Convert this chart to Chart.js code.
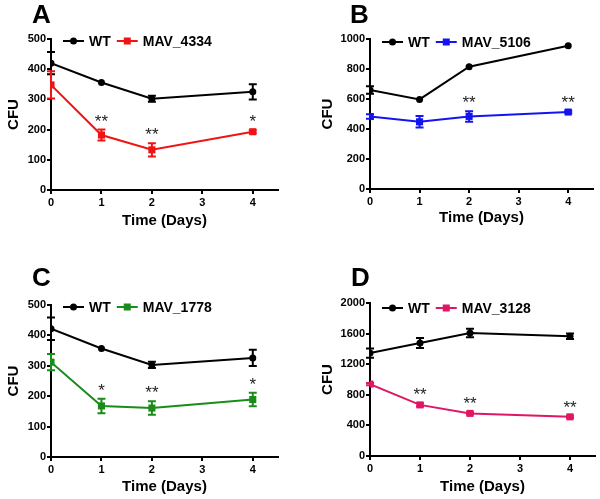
<!DOCTYPE html>
<html>
<head>
<meta charset="utf-8">
<script src="https://cdn.jsdelivr.net/npm/chart.js@4.4.1/dist/chart.umd.min.js"></script>
<style>
  html, body { margin: 0; padding: 0; background: #fff; }
  #wrap { position: relative; width: 600px; height: 499px; }
  canvas { position: absolute; }
</style>
</head>
<body>
<div id="wrap">
  <canvas id="panelA" width="300" height="250" style="left:0;top:0"></canvas>
  <canvas id="panelB" width="300" height="250" style="left:300px;top:0"></canvas>
  <canvas id="panelC" width="300" height="249" style="left:0;top:250px"></canvas>
  <canvas id="panelD" width="300" height="249" style="left:300px;top:250px"></canvas>
</div>
<script>
// shared x values (days) and tick labels
const days = [0, 1, 2, 4];
const dayTicks = [0, 1, 2, 3, 4];

// Panel A
const wtA = [420, 356, 302, 325];
const wtErrA = [37, 0, 10, 25];
const mavA = [348, 182, 133, 193];
const mavErrA = [45, 18, 22, 5];
const starsA = ['', '**', '**', '*'];
const yTicksA = [0, 100, 200, 300, 400, 500];

// Panel B
const wtB = [660, 597, 815, 955];
const wtErrB = [25, 0, 0, 0];
const mavB = [483, 448, 484, 513];
const mavErrB = [15, 38, 35, 8];
const starsB = ['', '', '**', '**'];
const yTicksB = [0, 200, 400, 600, 800, 1000];

// Panel C
const wtC = [422, 357, 303, 326];
const wtErrC = [37, 0, 10, 27];
const mavC = [312, 168, 161, 189];
const mavErrC = [27, 24, 22, 22];
const starsC = ['', '*', '**', '*'];
const yTicksC = [0, 100, 200, 300, 400, 500];

// Panel D
const wtD = [1345, 1478, 1607, 1565];
const wtErrD = [60, 65, 55, 35];
const mavD = [940, 668, 557, 512];
const mavErrD = [15, 20, 15, 15];
const starsD = ['', '**', '**', '**'];
const yTicksD = [0, 400, 800, 1200, 1600, 2000];

const FONT = '"Liberation Sans", Arial, sans-serif';

// error bars + significance stars, drawn from the dataset values through the scales
const errorBars = {
  id: 'errorBars',
  afterDatasetsDraw(chart) {
    const ctx = chart.ctx;
    const yScale = chart.scales.y;
    chart.data.datasets.forEach((ds, i) => {
      const meta = chart.getDatasetMeta(i);
      ctx.save();
      ctx.strokeStyle = ds.borderColor;
      ctx.lineWidth = 2;
      meta.data.forEach((pt, j) => {
        const v = ds.data[j].y;
        const e = ds.errors[j];
        if (e > 0) {
          const top = yScale.getPixelForValue(v + e);
          const bot = yScale.getPixelForValue(v - e);
          ctx.beginPath();
          ctx.moveTo(pt.x, top); ctx.lineTo(pt.x, bot);
          ctx.moveTo(pt.x - 4, top); ctx.lineTo(pt.x + 4, top);
          ctx.moveTo(pt.x - 4, bot); ctx.lineTo(pt.x + 4, bot);
          ctx.stroke();
        }
        if (ds.stars && ds.stars[j]) {
          ctx.fillStyle = '#222';
          ctx.font = '17px ' + FONT;
          ctx.textAlign = 'center';
          ctx.textBaseline = 'alphabetic';
          ctx.fillText(ds.stars[j], pt.x, yScale.getPixelForValue(v + e) - 3);
        }
      });
      ctx.restore();
    });
  }
};

// panel letter and inline legend (line + marker + label)
const panelDecor = {
  id: 'panelDecor',
  afterDraw(chart, args, opts) {
    const ctx = chart.ctx;
    ctx.save();
    ctx.fillStyle = '#000';
    ctx.font = 'bold 26px ' + FONT;
    ctx.textAlign = 'left';
    ctx.textBaseline = 'middle';
    ctx.fillText(opts.letter, opts.letterX, opts.letterY);

    let x = chart.chartArea.left + 12;
    const y = chart.chartArea.top + opts.legendDy;
    ctx.font = 'bold 14px ' + FONT;
    chart.data.datasets.forEach(ds => {
      ctx.strokeStyle = ds.borderColor;
      ctx.fillStyle = ds.borderColor;
      ctx.lineWidth = 2;
      ctx.beginPath();
      ctx.moveTo(x, y); ctx.lineTo(x + 21, y);
      ctx.stroke();
      if (ds.pointStyle === 'rect') {
        ctx.fillRect(x + 10.5 - 3.5, y - 3.5, 7, 7);
      } else {
        ctx.beginPath();
        ctx.arc(x + 10.5, y, 3.5, 0, Math.PI * 2);
        ctx.fill();
      }
      x += 26;
      ctx.fillStyle = '#000';
      ctx.fillText(ds.label, x, y + 1);
      x += ctx.measureText(ds.label).width + 6;
    });
    ctx.restore();
  }
};

function series(values) {
  return days.map((d, i) => ({ x: d, y: values[i] }));
}

function makePanel(id, p) {
  const tickFont = { family: FONT, size: 11, weight: 'bold' };
  const titleFont = { family: FONT, size: 15, weight: 'bold' };
  new Chart(document.getElementById(id), {
    type: 'line',
    data: {
      datasets: [{
        label: 'WT',
        data: series(p.wt),
        errors: p.wtErr,
        borderColor: '#000',
        backgroundColor: '#000',
        borderWidth: 2,
        pointStyle: 'circle',
        pointRadius: 3.5,
        pointBorderWidth: 0,
        tension: 0
      }, {
        label: p.mutLabel,
        data: series(p.mut),
        errors: p.mutErr,
        stars: p.stars,
        borderColor: p.color,
        backgroundColor: p.color,
        borderWidth: 2,
        pointStyle: 'rect',
        pointRadius: 5,
        pointBorderWidth: 0,
        tension: 0
      }]
    },
    options: {
      responsive: false,
      animation: false,
      layout: { padding: p.pad },
      plugins: {
        legend: { display: false },
        tooltip: { enabled: false },
        panelDecor: { letter: p.letter, letterX: p.letterX, letterY: p.letterY, legendDy: p.legendDy }
      },
      scales: {
        x: {
          type: 'linear',
          min: 0,
          max: 4.5,
          afterBuildTicks: s => { s.ticks = dayTicks.map(v => ({ value: v })); },
          afterFit: s => { s.height = p.xH; },
          grid: { drawOnChartArea: false, color: '#000', lineWidth: 2, tickLength: 4 },
          border: { color: '#000', width: 2 },
          ticks: { color: '#000', font: tickFont, padding: 2, maxRotation: 0, callback: v => String(v) },
          title: { display: true, text: 'Time (Days)', color: '#000', font: titleFont, padding: 0 }
        },
        y: {
          min: 0,
          max: p.yTicks[p.yTicks.length - 1],
          afterBuildTicks: s => { s.ticks = p.yTicks.map(v => ({ value: v })); },
          afterFit: s => { s.width = p.yW; },
          grid: { drawOnChartArea: false, color: '#000', lineWidth: 2, tickLength: 4 },
          border: { color: '#000', width: 2 },
          ticks: { color: '#000', font: tickFont, padding: 1, callback: v => String(v) },
          title: { display: true, text: 'CFU', color: '#000', font: titleFont, padding: { top: p.cfuPad, bottom: 0 } }
        }
      }
    },
    plugins: [errorBars, panelDecor]
  });
}

makePanel('panelA', {
  wt: wtA, wtErr: wtErrA, mut: mavA, mutErr: mavErrA, stars: starsA,
  mutLabel: 'MAV_4334', color: '#f01414', yTicks: yTicksA,
  letter: 'A', letterX: 32, letterY: 16, legendDy: 2,
  pad: { left: 0, top: 39, right: 22, bottom: 20 }, xH: 40, yW: 51, cfuPad: 5
});
makePanel('panelB', {
  wt: wtB, wtErr: wtErrB, mut: mavB, mutErr: mavErrB, stars: starsB,
  mutLabel: 'MAV_5106', color: '#1414f0', yTicks: yTicksB,
  letter: 'B', letterX: 50, letterY: 16, legendDy: 3,
  pad: { left: 0, top: 39, right: 7, bottom: 23 }, xH: 38, yW: 70, cfuPad: 19
});
makePanel('panelC', {
  wt: wtC, wtErr: wtErrC, mut: mavC, mutErr: mavErrC, stars: starsC,
  mutLabel: 'MAV_1778', color: '#1a8c1a', yTicks: yTicksC,
  letter: 'C', letterX: 32, letterY: 29, legendDy: 2,
  pad: { left: 0, top: 55, right: 22, bottom: 3 }, xH: 39, yW: 51, cfuPad: 5
});
makePanel('panelD', {
  wt: wtD, wtErr: wtErrD, mut: mavD, mutErr: mavErrD, stars: starsD,
  mutLabel: 'MAV_3128', color: '#e01664', yTicks: yTicksD,
  letter: 'D', letterX: 51, letterY: 29, legendDy: 5,
  pad: { left: 0, top: 53, right: 3, bottom: 3 }, xH: 40, yW: 70, cfuPad: 19
});
</script>
</body>
</html>
